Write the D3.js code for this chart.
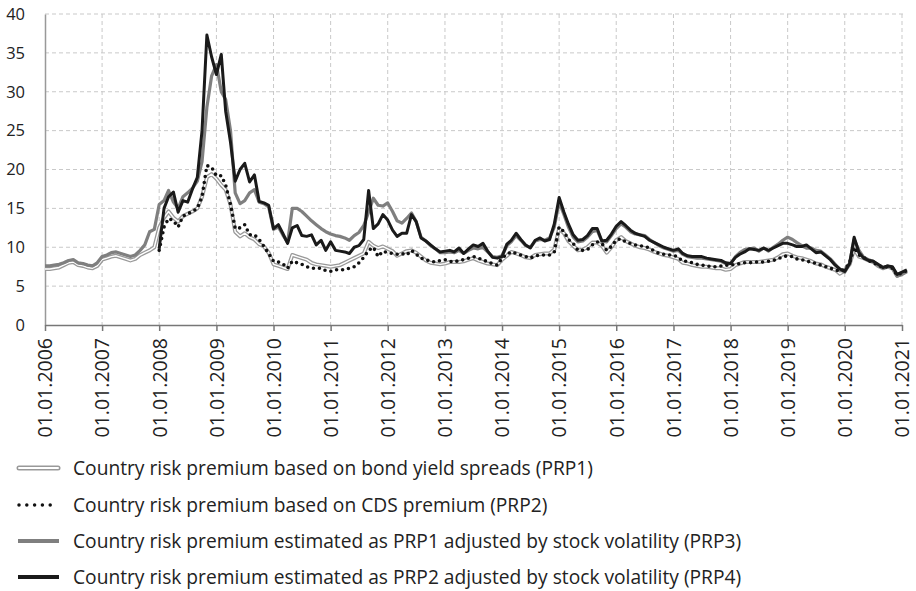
<!DOCTYPE html>
<html>
<head>
<meta charset="utf-8">
<script src="https://cdn.jsdelivr.net/npm/d3@7"></script>
<style>
  body { margin: 0; background: #fff; }
  svg { display: block; font-family: "Open Sans", "Noto Sans", sans-serif; }
</style>
</head>
<body>
<svg id="chart" width="916" height="591"></svg>
<script>
// data (monthly values, %)
var yearTicks = [2006, 2007, 2008, 2009, 2010, 2011, 2012, 2013, 2014, 2015, 2016, 2017, 2018, 2019, 2020, 2021];
var yTicks = [0, 5, 10, 15, 20, 25, 30, 35, 40];

// PRP1 and PRP3 start Jan 2006
var prp1 = [
  7.2, 7.2, 7.3, 7.4, 7.7, 8.0, 8.1, 7.7, 7.6, 7.4, 7.3, 7.6,
  8.4, 8.6, 8.8, 8.9, 8.7, 8.5, 8.3, 8.5, 9.0, 9.3, 9.6, 10.0,
  12.5, 13.8, 14.6, 13.8, 13.3, 14.0, 14.3, 14.6, 15.0, 16.5, 19.0, 19.4,
  18.8, 18.0, 17.4, 15.5, 12.0, 11.4, 11.8, 11.3, 11.0, 10.4, 10.1, 9.3,
  7.8, 7.6, 7.4, 7.2, 9.0, 8.8, 8.6, 8.4, 8.0, 7.8, 7.7, 7.6,
  7.5, 7.6, 7.7, 8.0, 8.3, 8.6, 8.9, 9.2, 10.7, 10.2, 9.9, 10.1,
  9.8, 9.5, 8.9, 9.2, 9.5, 9.6, 9.3, 8.8, 8.3, 8.0, 7.9, 7.8,
  7.9, 8.1, 8.1, 8.1, 8.2, 8.4, 8.6, 8.3, 8.1, 7.9, 7.8, 7.7,
  8.4, 8.9, 9.4, 9.2, 9.0, 8.7, 8.6, 9.0, 9.1, 9.2, 9.2, 9.7,
  12.4, 11.8, 10.8, 10.2, 9.6, 9.7, 10.0, 10.6, 10.6, 10.2, 9.3, 10.0,
  10.9, 11.3, 10.8, 10.5, 10.2, 10.0, 9.9, 9.7, 9.4, 9.2, 9.0, 8.9,
  8.7, 8.5, 8.0, 7.9, 7.7, 7.6, 7.5, 7.5, 7.4, 7.3, 7.3, 7.1,
  7.2, 7.7, 7.9, 8.1, 8.1, 8.1, 8.1, 8.2, 8.3, 8.4, 8.7, 9.1,
  9.2, 8.9, 8.7, 8.6, 8.4, 8.2, 7.9, 7.8, 7.5, 7.3, 7.1, 6.6,
  7.0, 7.8, 9.8, 8.8, 8.6, 8.3, 8.1, 7.6, 7.3, 7.5, 7.3, 6.3,
  6.6, 6.9
];
var prp3 = [
  7.6, 7.6, 7.7, 7.8, 8.0, 8.3, 8.4, 8.0, 7.9, 7.7, 7.6, 8.0,
  8.8, 9.0, 9.3, 9.4, 9.2, 9.0, 8.8, 9.0, 9.6, 10.3, 12.0, 12.3,
  15.5, 16.0, 17.3, 15.8, 15.0, 16.5, 17.0, 17.6, 18.5, 21.0, 28.0, 32.0,
  33.5, 30.0, 29.0, 25.0, 17.0, 15.6, 16.0, 17.0, 17.4, 15.8, 15.6, 15.2,
  12.3, 12.6, 11.6, 10.6, 15.0, 15.0, 14.6, 14.0, 13.4, 12.9, 12.4, 12.0,
  11.7, 11.5, 11.4, 11.2, 10.9, 11.5, 11.9, 12.8, 14.5, 16.3, 15.4, 15.3,
  15.7, 14.6, 13.4, 13.1, 13.7, 14.4, 13.3, 11.3, 10.8, 10.2, 9.8, 9.3,
  9.3, 9.4, 9.3, 9.6, 9.2, 9.6, 9.9, 9.8, 10.0, 9.4, 8.8, 8.7,
  8.9, 10.2, 10.7, 11.5, 10.9, 10.2, 10.0, 10.8, 11.0, 10.9, 11.2, 12.6,
  15.8, 14.2, 12.6, 11.3, 10.7, 10.8, 11.3, 12.0, 12.2, 10.8, 10.7, 11.5,
  12.4, 13.0, 12.6, 12.0, 11.7, 11.6, 11.5, 11.0, 10.6, 10.2, 9.9, 9.7,
  9.5, 9.6, 9.1, 8.8, 8.7, 8.6, 8.6, 8.5, 8.4, 8.3, 8.2, 7.9,
  7.9, 8.8, 9.3, 9.7, 9.8, 9.9, 9.5, 9.9, 9.5, 10.0, 10.4, 10.9,
  11.3, 11.0, 10.6, 10.2, 9.9, 9.9, 9.6, 9.5, 9.0, 8.5, 7.8, 7.1,
  6.8, 7.9, 11.0, 9.6, 8.7, 8.4, 8.2, 7.7, 7.3, 7.6, 7.4, 6.3,
  6.5, 6.9
];
// PRP2 and PRP4 start Jan 2008 (CDS data)
var prp2 = [
  9.6, 12.6, 13.7, 13.4, 12.6, 14.0, 14.3, 14.6, 15.0, 16.5, 20.5, 20.3,
  19.2, 19.2, 18.0, 15.5, 12.4, 12.5, 12.9, 11.6, 11.6, 11.0, 10.1, 9.2,
  8.2, 8.1, 7.9, 7.3, 8.2, 8.0, 7.8, 7.5, 7.3, 7.3, 7.3, 7.0,
  6.9, 7.1, 7.1, 7.1, 7.3, 7.5, 8.0, 8.7, 9.6, 10.0, 8.8, 9.5,
  9.3, 9.2, 9.1, 9.2, 9.0, 9.6, 9.1, 8.6, 8.4, 8.2, 8.1, 8.3,
  8.4, 8.2, 8.1, 8.3, 8.4, 8.6, 8.8, 8.6, 8.4, 8.1, 7.9, 7.7,
  8.6, 9.1, 9.4, 9.2, 9.0, 8.8, 8.6, 8.9, 9.0, 9.0, 9.0, 9.4,
  12.6, 12.0, 11.0, 10.5, 9.6, 9.6, 9.7, 10.3, 10.7, 10.5, 9.6, 10.1,
  10.9, 11.1, 10.7, 10.5, 10.3, 10.2, 10.1, 9.9, 9.5, 9.2, 9.1, 9.0,
  9.0, 8.7, 8.2, 8.2, 8.0, 7.8, 7.7, 7.6, 7.5, 7.5, 7.6, 7.7,
  7.7, 7.8, 7.9, 8.0, 8.0, 8.1, 8.1, 8.1, 8.2, 8.3, 8.5, 8.8,
  8.9, 8.8, 8.5, 8.4, 8.2, 8.1, 7.9, 7.7, 7.5, 7.3, 7.1, 6.9,
  7.2, 8.0, 10.0, 9.0, 8.7, 8.3, 8.0, 7.7, 7.4, 7.5, 7.3, 6.4,
  6.7, 7.0
];
var prp4 = [
  9.8, 15.0, 16.5, 17.1, 14.5, 16.0, 15.8, 17.5, 19.0, 25.0, 37.3, 34.5,
  32.2, 34.8, 27.5, 23.5, 18.5, 20.0, 20.8, 18.4, 19.3, 15.9, 15.7, 15.4,
  12.4, 12.9, 11.8, 10.5, 12.5, 12.8, 11.5, 11.4, 11.6, 10.3, 10.9, 9.6,
  10.7, 9.6, 9.5, 9.4, 9.2, 10.0, 10.2, 11.0, 17.3, 12.4, 13.0, 14.2,
  13.5, 12.2, 11.4, 11.8, 11.8, 14.2, 13.3, 11.2, 10.8, 10.3, 9.8, 9.4,
  9.5, 9.6, 9.4, 9.9, 9.2, 9.8, 10.3, 10.1, 10.5, 9.5, 8.7, 8.6,
  8.8, 10.4, 10.9, 11.8, 11.0, 10.3, 9.9, 10.9, 11.2, 10.8, 11.0, 13.0,
  16.4, 14.5, 13.0, 11.6, 10.9, 11.0, 11.5, 12.4, 12.4, 10.8, 10.9, 11.7,
  12.7, 13.3, 12.8, 12.2, 11.8, 11.6, 11.4, 10.9, 10.6, 10.3, 10.0, 9.8,
  9.6, 9.8, 9.2, 8.9, 8.8, 8.8, 8.8, 8.6, 8.5, 8.4, 8.3, 8.0,
  7.9, 8.7, 9.1, 9.4, 9.8, 9.7, 9.6, 9.9, 9.6, 9.9, 10.2, 10.5,
  10.5, 10.3, 10.1, 10.1, 10.3, 9.8, 9.3, 9.4, 8.9, 8.4, 7.7, 7.2,
  6.9, 7.9, 11.3, 9.3, 8.6, 8.3, 8.2, 7.8, 7.4, 7.6, 7.5, 6.5,
  6.8, 7.1
];

var legendLabels = [
  "Country risk premium based on bond yield spreads (PRP1)",
  "Country risk premium based on CDS premium (PRP2)",
  "Country risk premium estimated as PRP1 adjusted by stock volatility (PRP3)",
  "Country risk premium estimated as PRP2 adjusted by stock volatility (PRP4)"
];

(function() {
  // turn a monthly list into {date, value} points
  var toPoints = function(values, startYear) {
    return values.map(function(v, i) {
      return { date: new Date(startYear, i, 1), value: v };
    });
  };

  var svg = d3.select('#chart');
  var left = 45, right = 902, plotTop = 14, plotBottom = 325;

  var x = d3.scaleTime()
    .domain([new Date(2006, 0, 1), new Date(2021, 0, 1)])
    .range([left, right]);
  var y = d3.scaleLinear().domain([0, 40]).range([plotBottom, plotTop]);

  // grid
  svg.append('g')
    .selectAll('line')
    .data(yTicks.slice(1))
    .enter().append('line')
    .attr('x1', left).attr('x2', right + 1)
    .attr('y1', function(d) { return y(d); })
    .attr('y2', function(d) { return y(d); })
    .attr('stroke', '#c9c9c9').attr('stroke-dasharray', '4,3');

  svg.append('g')
    .selectAll('line')
    .data(yearTicks.slice(1))
    .enter().append('line')
    .attr('x1', function(d) { return x(new Date(d, 0, 1)); })
    .attr('x2', function(d) { return x(new Date(d, 0, 1)); })
    .attr('y1', plotTop).attr('y2', plotBottom)
    .attr('stroke', '#c9c9c9').attr('stroke-dasharray', '4,3');

  // y axis
  var yAxis = svg.append('g')
    .attr('transform', 'translate(' + left + ',0)')
    .call(d3.axisLeft(y).tickValues(yTicks).tickSize(0).tickPadding(20));
  yAxis.select('.domain').attr('stroke', '#999').attr('stroke-width', 1.5);
  yAxis.selectAll('text')
    .attr('font-family', '"Open Sans", sans-serif')
    .attr('font-size', 16.5)
    .attr('fill', '#222');

  // x axis
  var xAxis = svg.append('g')
    .attr('transform', 'translate(0,' + plotBottom + ')')
    .call(d3.axisBottom(x)
      .tickValues(yearTicks.map(function(yr) { return new Date(yr, 0, 1); }))
      .tickFormat(d3.timeFormat('%d.%m.%Y'))
      .tickSizeInner(6).tickSizeOuter(0));
  xAxis.select('.domain').attr('stroke', '#777').attr('stroke-width', 1.5);
  xAxis.selectAll('.tick line').attr('stroke', '#777').attr('stroke-width', 1.5);
  xAxis.selectAll('text')
    .attr('font-family', '"Open Sans", sans-serif')
    .attr('font-size', 19.5)
    .attr('fill', '#222')
    .attr('text-anchor', 'end')
    .attr('transform', 'translate(0,13) rotate(-90)')
    .attr('x', 0).attr('y', 0).attr('dy', '0.35em');

  // lines
  var line = d3.line()
    .x(function(d) { return x(d.date); })
    .y(function(d) { return y(d.value); });

  var s1 = toPoints(prp1, 2006), s2 = toPoints(prp2, 2008),
      s3 = toPoints(prp3, 2006), s4 = toPoints(prp4, 2008);

  var plot = svg.append('g').attr('fill', 'none').attr('stroke-linejoin', 'round');
  plot.append('path').attr('d', line(s1)).attr('stroke', '#999').attr('stroke-width', 4);
  plot.append('path').attr('d', line(s1)).attr('stroke', '#fff').attr('stroke-width', 1.4);
  plot.append('path').attr('d', line(s3)).attr('stroke', '#7f7f7f').attr('stroke-width', 3.2);
  plot.append('path').attr('d', line(s2)).attr('stroke', '#111').attr('stroke-width', 3.6)
    .attr('stroke-linecap', 'round').attr('stroke-dasharray', '0,6');
  plot.append('path').attr('d', line(s4)).attr('stroke', '#1a1a1a').attr('stroke-width', 3);

  // legend
  var legendY = [468, 505, 541, 577];
  var legend = svg.append('g');
  legendLabels.forEach(function(label, i) {
    var g = legend.append('g').attr('transform', 'translate(0,' + legendY[i] + ')');
    if (i === 0) {
      g.append('line').attr('x1', 19).attr('x2', 58).attr('stroke', '#999').attr('stroke-width', 5).attr('stroke-linecap', 'round');
      g.append('line').attr('x1', 19).attr('x2', 58).attr('stroke', '#fff').attr('stroke-width', 2).attr('stroke-linecap', 'round');
    } else if (i === 1) {
      g.append('line').attr('x1', 19).attr('x2', 58).attr('stroke', '#111').attr('stroke-width', 3.5)
        .attr('stroke-linecap', 'round').attr('stroke-dasharray', '0,7.8');
    } else {
      g.append('line').attr('x1', 18).attr('x2', 59)
        .attr('stroke', i === 2 ? '#7f7f7f' : '#1a1a1a').attr('stroke-width', 4);
    }
    g.append('text')
      .attr('x', 73).attr('y', 6.5)
      .attr('font-size', 19.2)
      .attr('fill', '#222')
      .text(label);
  });
})();
</script>
</body>
</html>
